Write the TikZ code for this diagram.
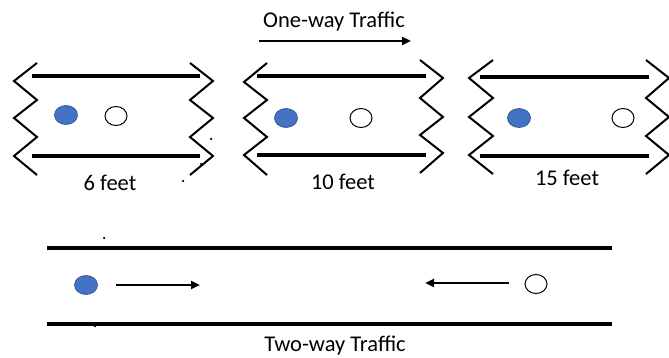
\documentclass[tikz,border=0pt]{standalone}
\usepackage{fontspec}
\setmainfont{Carlito}
\usetikzlibrary{shapes.geometric,arrows.meta}
\definecolor{carblue}{HTML}{4472C4}
\definecolor{carblueedge}{HTML}{2F528F}
\tikzset{
  road/.style={line width=3.3pt},
  zig/.style={line width=2pt, line join=miter},
  bluecar/.style={ellipse, fill=carblue, draw=carblueedge, line width=0.7pt, minimum width=23pt, minimum height=19pt, inner sep=0pt},
  whitecar/.style={ellipse, fill=white, draw=black, line width=1pt, minimum width=22pt, minimum height=19pt, inner sep=0pt},
  lbl/.style={font=\fontsize{22.5}{26}\selectfont, inner sep=0pt},
  flow/.style={line width=2.4pt, -{Triangle[length=9pt,width=8pt]}},
  speck/.style={fill=black, circle, inner sep=0pt, minimum size=2.5pt}
}
\begin{document}
\begin{tikzpicture}[x=1pt,y=-1pt]
\useasboundingbox (0,0) rectangle (669,358);
% panel 1
\draw[road] (32,76) -- (200,76);
\draw[road] (32,156) -- (200,156);
\draw[zig] (37,63) -- (14,81) -- (37,100) -- (14,118) -- (37,137) -- (14,156) -- (37,175);
\draw[zig] (190,63) -- (213,81) -- (190,100) -- (213,118) -- (190,137) -- (213,156) -- (190,175);
\node[bluecar] (b1) at (66,115) {};
\node[whitecar] (w1) at (116,116) {};
\node[lbl] (t1) at (110,183) {6 feet};
% panel 2
\node[lbl] (t0) at (334,22) {One-way Traffic};
\coordinate (o1) at (259,41);
\coordinate (o2) at (411,41);
\draw[flow] (o1) -- (o2);
\draw[road] (257,76) -- (426,76);
\draw[road] (257,155) -- (426,155);
\draw[zig] (267,63) -- (244,82) -- (267,100) -- (244,118) -- (267,137) -- (244,155) -- (267,175);
\draw[zig] (420,60) -- (443,78) -- (420,98) -- (443,117) -- (420,135) -- (443,153) -- (420,173);
\node[bluecar] (b2) at (286,118) {};
\node[whitecar] (w2) at (361,118) {};
\node[lbl] (t2) at (343,182) {10 feet};
% panel 3
\draw[road] (480,77) -- (649,77);
\draw[road] (480,156) -- (649,156);
\draw[zig] (493,60) -- (469,78) -- (493,98) -- (469,117) -- (493,136) -- (469,155) -- (493,174);
\draw[zig] (646,60) -- (669,78) -- (646,98) -- (669,117) -- (646,136) -- (669,155) -- (646,174);
\node[bluecar] (b3) at (519,118) {};
\node[whitecar] (w3) at (623,118) {};
\node[lbl] (t3) at (567,178) {15 feet};
% two-way road
\draw[road] (47,248) -- (612,248);
\draw[road] (47,324) -- (612,324);
\node[bluecar] (b4) at (86,285) {};
\node[whitecar] (w4) at (536,284) {};
\coordinate (a1) at (116,285);
\coordinate (a2) at (200,285);
\coordinate (a3) at (509,283);
\coordinate (a4) at (425,283);
\draw[flow] (a1) -- (a2);
\draw[flow] (a3) -- (a4);
\node[lbl] (t4) at (335,346) {Two-way Traffic};
% stray specks
\node[speck] (s1) at (211,139) {};
\node[speck] (s2) at (201,164) {};
\node[speck] (s3) at (183,181) {};
\node[speck] (s4) at (104,238) {};
\node[speck] (s5) at (95,326) {};
\end{tikzpicture}
\end{document}
